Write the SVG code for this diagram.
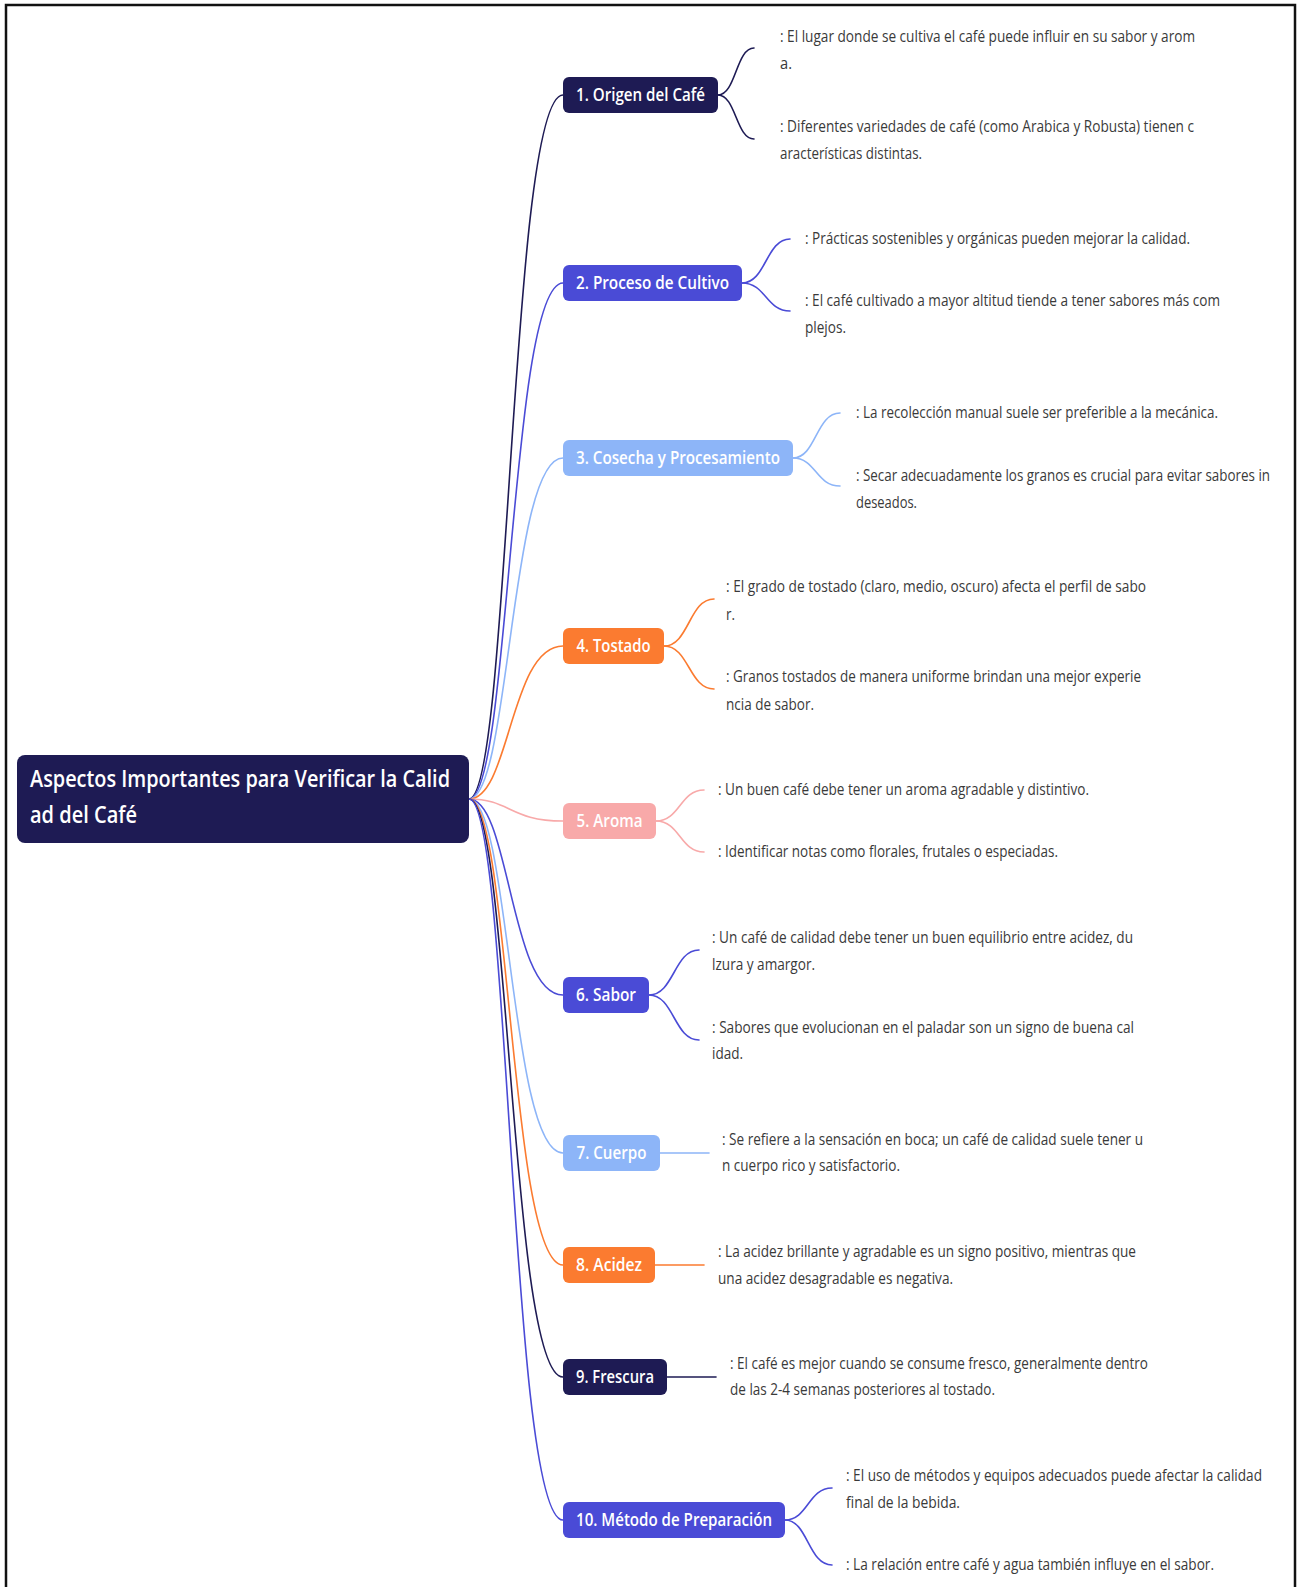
<svg xmlns="http://www.w3.org/2000/svg" width="1298" height="1587" viewBox="0 0 1298 1587">
<style>
.frame{fill:none;stroke:#111;stroke-width:2.5}
.c{fill:none;stroke-width:1.6;stroke-linecap:round}
.n{fill:#fff;font-family:"Open Sans","Noto Sans",sans-serif;font-size:17.5px;font-weight:600;text-anchor:middle}
.r{fill:#fff;font-family:"Open Sans","Noto Sans",sans-serif;font-size:24px;font-weight:600}
.l{fill:#3a3a3a;font-family:"Open Sans","Noto Sans",sans-serif;font-size:16px}
.navy{fill:#1e1b54}.indigo{fill:#4a4bd6}.lblue{fill:#8db5f8}.orange{fill:#fb7b30}.pink{fill:#f8a9a9}
.snavy{stroke:#1e1b54}.sindigo{stroke:#4a4bd6}.slblue{stroke:#8db5f8}.sorange{stroke:#fb7b30}.spink{stroke:#f8a9a9}
</style>
<rect width="1298" height="1587" fill="#fff"/>
<rect class="frame" x="6" y="5" width="1289" height="1600"/>
<g id="connectors">
<path class="c snavy" d="M469 799 C510 799 510 95 563 95"/>
<path class="c sindigo" d="M469 799 C510 799 510 283 563 283"/>
<path class="c slblue" d="M469 799 C510 799 510 458 563 458"/>
<path class="c sorange" d="M469 799 C510 799 510 646 563 646"/>
<path class="c spink" d="M469 799 C510 799 510 821 563 821"/>
<path class="c sindigo" d="M469 799 C510 799 510 995 563 995"/>
<path class="c slblue" d="M469 799 C510 799 510 1153 563 1153"/>
<path class="c sorange" d="M469 799 C510 799 510 1265 563 1265"/>
<path class="c snavy" d="M469 799 C510 799 510 1377 563 1377"/>
<path class="c sindigo" d="M469 799 C510 799 510 1520 563 1520"/>
<path class="c snavy" d="M718 95 C736 95 736 48 754 48"/>
<path class="c snavy" d="M718 95 C736 95 736 139 754 139"/>
<path class="c sindigo" d="M742 283 C766 283 766 239 790 239"/>
<path class="c sindigo" d="M742 283 C766 283 766 311 790 311"/>
<path class="c slblue" d="M793 458 C816 458 816 413 840 413"/>
<path class="c slblue" d="M793 458 C816 458 816 486 840 486"/>
<path class="c sorange" d="M664 646 C689 646 689 599 714 599"/>
<path class="c sorange" d="M664 646 C689 646 689 689 714 689"/>
<path class="c spink" d="M656 821 C680 821 680 790 704 790"/>
<path class="c spink" d="M656 821 C680 821 680 852 704 852"/>
<path class="c sindigo" d="M649 995 C674 995 674 950 699 950"/>
<path class="c sindigo" d="M649 995 C674 995 674 1040 699 1040"/>
<path class="c slblue" d="M660 1153 L709 1153"/>
<path class="c sorange" d="M655 1265 L704 1265"/>
<path class="c snavy" d="M667 1377 L716 1377"/>
<path class="c sindigo" d="M785 1520 C808 1520 808 1488 832 1488"/>
<path class="c sindigo" d="M785 1520 C808 1520 808 1565 832 1565"/>
</g>
<g id="root">
<rect class="navy" x="17" y="755" width="452" height="88" rx="8"/>
<text class="r" x="30" y="787" textLength="420" lengthAdjust="spacingAndGlyphs">Aspectos Importantes para Verificar la Calid</text>
<text class="r" x="30" y="823" textLength="107" lengthAdjust="spacingAndGlyphs">ad del Café</text>
</g>
<g id="n1">
<rect class="navy" x="563" y="77" width="155" height="36" rx="6"/>
<text class="n" x="640.5" y="101" textLength="129" lengthAdjust="spacingAndGlyphs">1. Origen del Café</text>
</g>
<g id="n2">
<rect class="indigo" x="563" y="265" width="179" height="36" rx="6"/>
<text class="n" x="652.5" y="289" textLength="153" lengthAdjust="spacingAndGlyphs">2. Proceso de Cultivo</text>
</g>
<g id="n3">
<rect class="lblue" x="563" y="440" width="230" height="36" rx="6"/>
<text class="n" x="678" y="464" textLength="204" lengthAdjust="spacingAndGlyphs">3. Cosecha y Procesamiento</text>
</g>
<g id="n4">
<rect class="orange" x="563" y="628" width="101" height="36" rx="6"/>
<text class="n" x="613.5" y="652" textLength="74" lengthAdjust="spacingAndGlyphs">4. Tostado</text>
</g>
<g id="n5">
<rect class="pink" x="563" y="803" width="93" height="36" rx="6"/>
<text class="n" x="609.5" y="827" textLength="66" lengthAdjust="spacingAndGlyphs">5. Aroma</text>
</g>
<g id="n6">
<rect class="indigo" x="563" y="977" width="86" height="36" rx="6"/>
<text class="n" x="606" y="1001" textLength="60" lengthAdjust="spacingAndGlyphs">6. Sabor</text>
</g>
<g id="n7">
<rect class="lblue" x="563" y="1135" width="97" height="36" rx="6"/>
<text class="n" x="611.5" y="1159" textLength="70" lengthAdjust="spacingAndGlyphs">7. Cuerpo</text>
</g>
<g id="n8">
<rect class="orange" x="563" y="1247" width="92" height="36" rx="6"/>
<text class="n" x="609" y="1271" textLength="66" lengthAdjust="spacingAndGlyphs">8. Acidez</text>
</g>
<g id="n9">
<rect class="navy" x="563" y="1359" width="104" height="36" rx="6"/>
<text class="n" x="615" y="1383" textLength="78" lengthAdjust="spacingAndGlyphs">9. Frescura</text>
</g>
<g id="n10">
<rect class="indigo" x="563" y="1502" width="222" height="36" rx="6"/>
<text class="n" x="674" y="1526" textLength="196" lengthAdjust="spacingAndGlyphs">10. Método de Preparación</text>
</g>
<g id="leaves">
<g id="l1a"><text class="l" x="780" y="42" textLength="415" lengthAdjust="spacingAndGlyphs">: El lugar donde se cultiva el café puede influir en su sabor y arom</text><text class="l" x="780" y="69" textLength="12" lengthAdjust="spacingAndGlyphs">a.</text></g>
<g id="l1b"><text class="l" x="780" y="132" textLength="414" lengthAdjust="spacingAndGlyphs">: Diferentes variedades de café (como Arabica y Robusta) tienen c</text><text class="l" x="780" y="159" textLength="142" lengthAdjust="spacingAndGlyphs">aracterísticas distintas.</text></g>
<g id="l2a"><text class="l" x="805" y="244" textLength="385" lengthAdjust="spacingAndGlyphs">: Prácticas sostenibles y orgánicas pueden mejorar la calidad.</text></g>
<g id="l2b"><text class="l" x="805" y="306" textLength="415" lengthAdjust="spacingAndGlyphs">: El café cultivado a mayor altitud tiende a tener sabores más com</text><text class="l" x="805" y="333" textLength="41" lengthAdjust="spacingAndGlyphs">plejos.</text></g>
<g id="l3a"><text class="l" x="856" y="418" textLength="362" lengthAdjust="spacingAndGlyphs">: La recolección manual suele ser preferible a la mecánica.</text></g>
<g id="l3b"><text class="l" x="856" y="481" textLength="414" lengthAdjust="spacingAndGlyphs">: Secar adecuadamente los granos es crucial para evitar sabores in</text><text class="l" x="856" y="508" textLength="61" lengthAdjust="spacingAndGlyphs">deseados.</text></g>
<g id="l4a"><text class="l" x="726" y="592" textLength="420" lengthAdjust="spacingAndGlyphs">: El grado de tostado (claro, medio, oscuro) afecta el perfil de sabo</text><text class="l" x="726" y="620" textLength="9" lengthAdjust="spacingAndGlyphs">r.</text></g>
<g id="l4b"><text class="l" x="726" y="682" textLength="415" lengthAdjust="spacingAndGlyphs">: Granos tostados de manera uniforme brindan una mejor experie</text><text class="l" x="726" y="710" textLength="88" lengthAdjust="spacingAndGlyphs">ncia de sabor.</text></g>
<g id="l5a"><text class="l" x="718" y="795" textLength="371" lengthAdjust="spacingAndGlyphs">: Un buen café debe tener un aroma agradable y distintivo.</text></g>
<g id="l5b"><text class="l" x="718" y="857" textLength="340" lengthAdjust="spacingAndGlyphs">: Identificar notas como florales, frutales o especiadas.</text></g>
<g id="l6a"><text class="l" x="712" y="943" textLength="421" lengthAdjust="spacingAndGlyphs">: Un café de calidad debe tener un buen equilibrio entre acidez, du</text><text class="l" x="712" y="970" textLength="103" lengthAdjust="spacingAndGlyphs">lzura y amargor.</text></g>
<g id="l6b"><text class="l" x="712" y="1033" textLength="422" lengthAdjust="spacingAndGlyphs">: Sabores que evolucionan en el paladar son un signo de buena cal</text><text class="l" x="712" y="1059" textLength="31" lengthAdjust="spacingAndGlyphs">idad.</text></g>
<g id="l7"><text class="l" x="722" y="1145" textLength="421" lengthAdjust="spacingAndGlyphs">: Se refiere a la sensación en boca; un café de calidad suele tener u</text><text class="l" x="722" y="1171" textLength="178" lengthAdjust="spacingAndGlyphs">n cuerpo rico y satisfactorio.</text></g>
<g id="l8"><text class="l" x="718" y="1257" textLength="418" lengthAdjust="spacingAndGlyphs">: La acidez brillante y agradable es un signo positivo, mientras que</text><text class="l" x="718" y="1284" textLength="235" lengthAdjust="spacingAndGlyphs">una acidez desagradable es negativa.</text></g>
<g id="l9"><text class="l" x="730" y="1369" textLength="418" lengthAdjust="spacingAndGlyphs">: El café es mejor cuando se consume fresco, generalmente dentro</text><text class="l" x="730" y="1395" textLength="265" lengthAdjust="spacingAndGlyphs">de las 2-4 semanas posteriores al tostado.</text></g>
<g id="l10a"><text class="l" x="846" y="1481" textLength="416" lengthAdjust="spacingAndGlyphs">: El uso de métodos y equipos adecuados puede afectar la calidad</text><text class="l" x="846" y="1508" textLength="114" lengthAdjust="spacingAndGlyphs">final de la bebida.</text></g>
<g id="l10b"><text class="l" x="846" y="1570" textLength="368" lengthAdjust="spacingAndGlyphs">: La relación entre café y agua también influye en el sabor.</text></g>
</g>
</svg>
